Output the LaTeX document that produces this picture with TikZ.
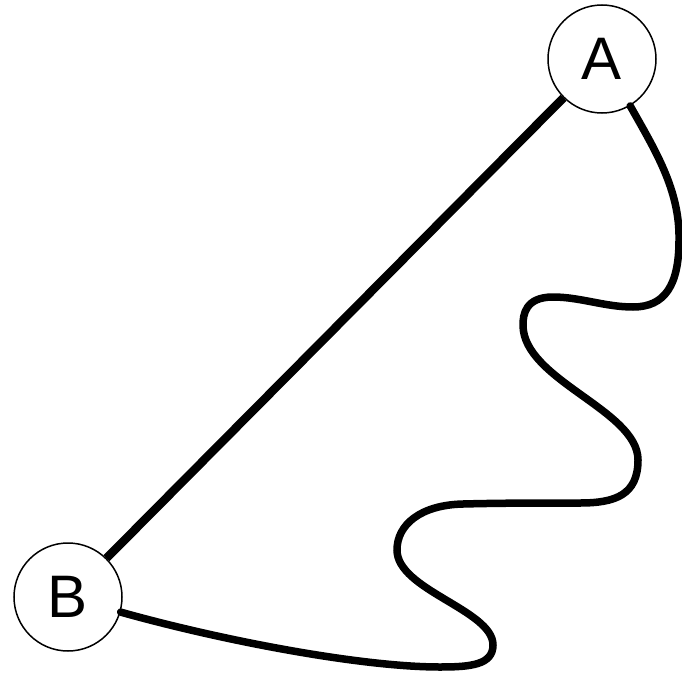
\documentclass[tikz,border=0pt]{standalone}
\usepackage{fontspec}
\setmainfont{Liberation Sans}
\begin{document}
\begin{tikzpicture}[x=1pt,y=-1pt,
  vertex/.style={draw, circle, line width=1.5pt, minimum size=108pt, inner sep=0pt, font=\fontsize{60}{60}\selectfont},
  edgeline/.style={line width=8.5pt},
  wavy/.style={line width=7.5pt, line cap=round}]
\useasboundingbox (0,0) rectangle (682,674);
\node[vertex] (A) at (602,59) {A};
\node[vertex] (B) at (68,597) {B};
\draw[edgeline] (A) -- (B);
\draw[wavy] (A.-59)
  .. controls (655,150) and (680,190) .. (679,240)
  .. controls (679,285) and (665,307) .. (633,307)
  .. controls (605,307) and (580,297) .. (553,297)
  .. controls (525,297) and (523,315) .. (523,325)
  .. controls (523,380) and (638,410) .. (638,460)
  .. controls (638,495) and (615,503) .. (580,503)
  .. controls (540,503) and (500,503) .. (463,504)
  .. controls (420,505) and (397,525) .. (397,550)
  .. controls (397,590) and (493,610) .. (493,645)
  .. controls (493,665) and (470,667) .. (440,667)
  .. controls (360,667) and (220,640) .. (B.-16);
\end{tikzpicture}
\end{document}
